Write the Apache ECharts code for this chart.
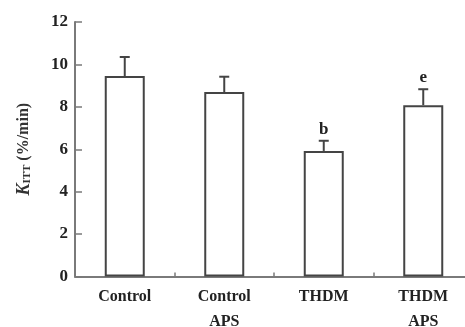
<!DOCTYPE html>
<html>
<head>
<meta charset="utf-8">
<script src="https://cdn.jsdelivr.net/npm/echarts@6/dist/echarts.min.js"></script>
<style>
  html, body { margin: 0; padding: 0; background: #fff; }
  #chart { width: 465px; height: 327px; }
</style>
</head>
<body>
<div id="chart"></div>
<script>
var categories = ['Control', 'Control\nAPS', 'THDM', 'THDM\nAPS'];
var means = [9.45, 8.7, 5.92, 8.08];
var errors = [0.9, 0.72, 0.48, 0.75];
var sigLabels = ['', '', 'b', 'e'];
var yTicks = [0, 2, 4, 6, 8, 10, 12];

var chart = echarts.init(document.getElementById('chart'));

var axisColor = '#7a7a7a';
var barColor = '#444';
var font = '"Liberation Serif", "DejaVu Serif", serif';

var option = {
  animation: false,
  grid: { left: 75, right: -8, top: 22, bottom: 50.5, outerBoundsMode: 'none', containLabel: false },
  xAxis: {
    type: 'category',
    data: categories,
    axisLine: { lineStyle: { color: axisColor, width: 2 } },
    axisTick: { show: true, inside: true, length: 4, lineStyle: { color: axisColor, width: 1.5 } },
    axisLabel: {
      color: '#222', fontFamily: font, fontWeight: 'bold', fontSize: 16,
      lineHeight: 25, margin: 8
    }
  },
  yAxis: {
    type: 'value',
    min: yTicks[0],
    max: yTicks[yTicks.length - 1],
    interval: 2,
    splitLine: { show: false },
    axisLine: { show: true, lineStyle: { color: axisColor, width: 2 } },
    axisTick: { show: true, inside: true, length: 7, lineStyle: { color: axisColor, width: 1.5 } },
    axisLabel: { color: '#222', fontFamily: font, fontWeight: 'bold', fontSize: 17, margin: 7 },
    name: '{k|K}{s|ITT} (%/min)',
    nameLocation: 'middle',
    nameGap: 42,
    nameTextStyle: {
      rich: {
        k: { fontFamily: font, fontStyle: 'italic', fontWeight: 'bold', fontSize: 18, color: '#333' },
        s: { fontFamily: font, fontSize: 11, color: '#333', verticalAlign: 'bottom', padding: [6, 0, 0, 0] }
      },
      fontFamily: font, fontWeight: 'bold', fontSize: 16, color: '#333'
    }
  },
  series: [
    {
      type: 'bar',
      data: means,
      barWidth: 40,
      itemStyle: { color: '#fff', borderColor: barColor, borderWidth: 2 }
    },
    {
      type: 'custom',
      data: means.map(function (m, i) { return [i, m, errors[i]]; }),
      z: 5,
      renderItem: function (params, api) {
        var x = api.value(0);
        var top = api.coord([x, api.value(1)]);
        var hi = api.coord([x, api.value(1) + api.value(2)]);
        var cap = 5;
        var style = { stroke: barColor, lineWidth: 2 };
        var children = [
          { type: 'line', shape: { x1: top[0], y1: top[1], x2: hi[0], y2: hi[1] }, style: style },
          { type: 'line', shape: { x1: hi[0] - cap, y1: hi[1], x2: hi[0] + cap, y2: hi[1] }, style: style }
        ];
        var lbl = sigLabels[params.dataIndex];
        if (lbl) {
          children.push({
            type: 'text',
            x: hi[0], y: hi[1] - 3,
            style: {
              text: lbl, fill: '#222', font: 'bold 17px ' + font,
              textAlign: 'center', textVerticalAlign: 'bottom'
            }
          });
        }
        return { type: 'group', children: children };
      }
    }
  ]
};

chart.setOption(option);
</script>
</body>
</html>
